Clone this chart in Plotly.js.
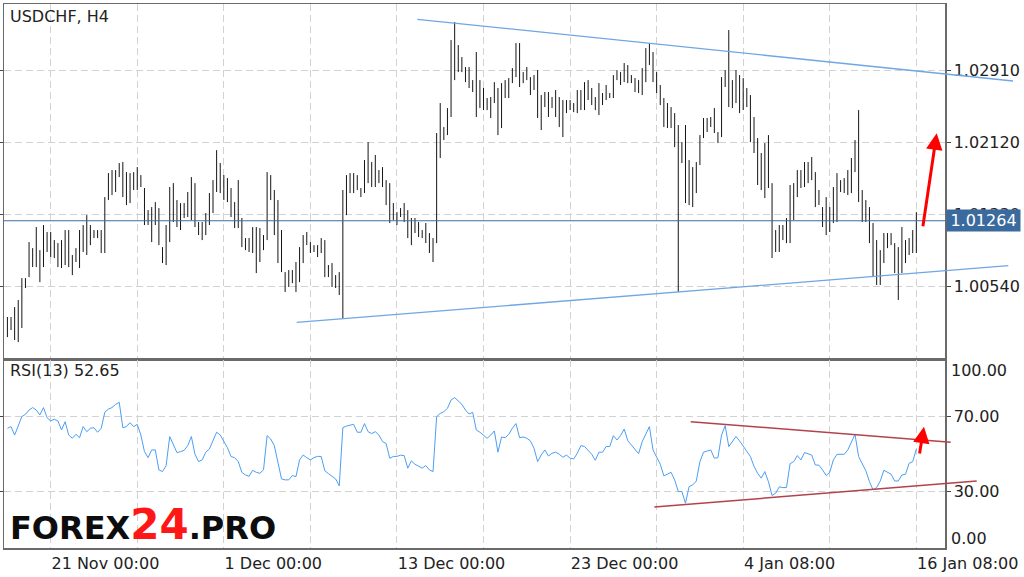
<!DOCTYPE html>
<html>
<head>
<meta charset="utf-8">
<script src="https://cdn.plot.ly/plotly-3.0.1.min.js"></script>
<style>html,body{margin:0;padding:0;background:#fff;}#chart{width:1024px;height:577px;}</style>
</head>
<body>
<div id="chart"></div>
<script>
// ---- data (H4 bars, index 0..252) ----
const highs = [1.00208,1.00208,1.00317,1.00394,1.00635,1.00635,1.01030,1.00964,1.01195,1.00942,
1.01217,1.01140,1.01140,1.01052,1.01019,1.01052,1.01162,1.01162,1.00888,1.00964,
1.01162,1.01217,1.01326,1.01217,1.01162,1.01162,1.01162,1.01524,1.01787,1.01820,
1.01820,1.01897,1.01908,1.01798,1.01787,1.01798,1.01853,1.01765,1.01623,1.01381,
1.01414,1.01469,1.01403,1.00975,1.01217,1.01634,1.01677,1.01491,1.01458,1.01458,
1.01579,1.01743,1.01677,1.01250,1.01250,1.01348,1.01568,1.01710,1.02039,1.01897,
1.01765,1.01732,1.01623,1.01469,1.01710,1.01294,1.01074,1.01074,1.01195,1.01195,
1.01184,1.01107,1.01798,1.01765,1.01601,1.01491,1.01162,1.00701,1.00723,1.00723,
1.00811,1.00975,1.01107,1.01140,1.01030,1.00997,1.00997,1.01074,1.01052,1.00778,
1.00800,1.00668,1.00701,1.01601,1.01765,1.01787,1.01787,1.01765,1.01623,1.01930,
1.02127,1.01908,1.01985,1.01820,1.01853,1.01710,1.01677,1.01458,1.01359,1.01403,
1.01458,1.01381,1.01294,1.01294,1.01250,1.01162,1.01239,1.01129,1.01074,1.02226,
1.02555,1.02292,1.02500,1.03246,1.03444,1.03191,1.03060,1.02950,1.02950,1.02807,
1.03115,1.02807,1.02720,1.02610,1.02621,1.02785,1.02720,1.02774,1.02807,1.02829,
1.02939,1.03213,1.03213,1.02895,1.02950,1.02840,1.02862,1.02917,1.02643,1.02676,
1.02676,1.02621,1.02698,1.02621,1.02588,1.02588,1.02588,1.02555,1.02698,1.02698,
1.02785,1.02807,1.02720,1.02621,1.02774,1.02665,1.02753,1.02665,1.02862,1.02917,
1.02895,1.02994,1.02972,1.02862,1.02829,1.02807,1.02939,1.03158,1.03213,1.03115,
1.02895,1.02753,1.02610,1.02555,1.02511,1.02445,1.02314,1.02127,1.02314,1.01930,
1.01853,1.01908,1.02204,1.02391,1.02391,1.02402,1.02500,1.02237,1.02840,1.02917,
1.03356,1.02807,1.02917,1.02862,1.02829,1.02720,1.02643,1.02402,1.02171,1.02007,
1.02116,1.02204,1.01677,1.01162,1.01217,1.01217,1.01294,1.01656,1.01677,1.01820,
1.01820,1.01908,1.01908,1.01963,1.01798,1.01601,1.01414,1.01524,1.01414,1.01634,
1.01787,1.01710,1.01732,1.01820,1.01952,1.02149,1.02478,1.01601,1.01491,1.01414,
1.01239,1.01052,1.00942,1.01129,1.01129,1.01129,1.01019,1.00975,1.01195,1.01052,
1.01074,1.01162,1.01359];
const lows = [0.99988,1.00065,0.99955,0.99933,1.00087,1.00526,1.00646,1.00756,1.00756,1.00591,
1.00756,1.00921,1.00866,1.00855,1.00756,1.00745,1.00778,1.00756,1.00668,1.00811,
1.00745,1.00921,1.00888,1.00997,1.01074,1.01074,1.00910,1.00910,1.01491,1.01546,
1.01579,1.01743,1.01524,1.01436,1.01458,1.01601,1.01601,1.01634,1.01217,1.01217,
1.01030,1.01217,1.00997,1.00800,1.00778,1.01030,1.01250,1.01195,1.01162,1.01294,
1.01305,1.01272,1.01195,1.01107,1.01052,1.01107,1.01217,1.01348,1.01579,1.01568,
1.01491,1.01469,1.01305,1.01184,1.01184,1.00975,1.00942,1.00921,1.00910,1.00690,
1.00811,1.00942,1.01052,1.01491,1.01107,1.00800,1.00701,1.00482,1.00537,1.00580,
1.00482,1.00591,1.00800,1.00997,1.00910,1.00921,1.00866,1.00910,1.00646,1.00646,
1.00537,1.00526,1.00449,1.00197,1.01326,1.01568,1.01568,1.01601,1.01524,1.01568,
1.01677,1.01634,1.01634,1.01677,1.01634,1.01436,1.01239,1.01272,1.01217,1.01305,
1.01250,1.01074,1.00997,1.01129,1.01085,1.01074,1.01019,1.00910,1.00811,1.01019,
1.01952,1.02149,1.02204,1.02402,1.02807,1.02895,1.02895,1.02785,1.02720,1.02676,
1.02402,1.02500,1.02478,1.02478,1.02391,1.02555,1.02204,1.02281,1.02610,1.02610,
1.02774,1.02840,1.02731,1.02774,1.02807,1.02643,1.02698,1.02391,1.02259,1.02511,
1.02402,1.02500,1.02402,1.02292,1.02182,1.02445,1.02478,1.02456,1.02445,1.02478,
1.02478,1.02588,1.02533,1.02478,1.02423,1.02533,1.02588,1.02610,1.02610,1.02807,
1.02753,1.02785,1.02774,1.02774,1.02676,1.02665,1.02643,1.02785,1.02972,1.02785,
1.02665,1.02533,1.02292,1.02281,1.02281,1.02072,1.00482,1.01897,1.01458,1.01436,
1.01414,1.01568,1.01875,1.02171,1.02237,1.02292,1.02226,1.02116,1.02182,1.02731,
1.02511,1.02500,1.02555,1.02445,1.02478,1.02511,1.02127,1.02007,1.01656,1.01601,
1.01513,1.01623,1.00855,1.00921,1.00921,1.01052,1.01019,1.01019,1.01272,1.01524,
1.01623,1.01634,1.01677,1.01710,1.01414,1.01436,1.01195,1.01107,1.01140,1.01239,
1.01250,1.01579,1.01568,1.01546,1.01568,1.01798,1.01469,1.01250,1.01250,1.01019,
1.00646,1.00559,1.00559,1.00800,1.00964,1.00997,1.00690,1.00394,1.00690,1.00800,
1.00888,1.00910,1.00910];
const rsi = [63.6,64.5,60.0,65.4,69.8,71.0,73.3,74.6,73.3,70.7,
74.6,69.2,67.5,68.4,67.5,62.7,67.1,60.0,58.3,60.4,
58.6,64.5,61.8,63.6,63.9,61.5,63.6,72.1,73.8,74.6,
76.3,77.4,63.9,64.5,66.6,64.5,65.7,60.0,51.2,48.0,
52.1,52.1,41.5,40.6,43.8,59.2,54.7,50.7,51.2,51.9,
54.4,59.2,49.8,45.9,46.8,50.9,52.6,57.4,61.5,60.0,
56.9,53.3,48.6,48.0,45.9,40.2,38.8,38.1,41.3,40.2,
39.7,41.5,59.7,57.9,54.4,44.5,36.7,36.2,36.2,38.5,
37.9,46.8,49.4,48.0,46.8,48.0,48.7,48.6,41.0,39.5,
38.3,36.7,33.0,63.9,64.8,65.4,65.7,61.5,61.5,66.1,
61.8,60.8,61.8,60.0,56.5,55.5,47.7,48.6,48.7,49.3,
49.1,42.4,46.3,44.5,43.3,42.4,43.8,41.5,40.6,69.8,
71.5,72.4,74.2,78.6,79.9,78.3,76.3,73.3,71.2,72.1,
62.7,61.5,60.0,58.3,60.0,62.2,50.9,59.0,58.6,60.4,
63.6,66.1,58.6,59.0,58.3,56.9,53.0,45.9,49.4,52.1,
48.9,50.3,50.9,49.8,48.2,49.4,47.7,47.3,50.3,54.4,
53.9,51.6,49.8,46.6,50.9,50.9,53.9,53.9,59.7,57.4,
59.7,63.2,57.0,54.7,52.4,50.1,56.5,60.4,64.5,52.1,
48.0,44.5,38.3,39.4,40.2,36.2,30.0,30.0,23.8,32.6,
33.5,35.6,45.9,50.9,51.7,52.1,47.7,48.0,60.0,65.0,
53.9,56.5,59.2,56.9,54.2,51.7,48.6,43.4,39.7,37.1,
40.6,35.2,27.9,29.1,32.5,32.1,32.1,44.8,45.9,49.1,
46.8,50.7,50.0,49.4,44.1,44.0,41.5,38.5,40.2,46.8,
49.8,49.8,49.8,52.1,56.5,60.4,48.6,44.5,41.0,35.3,
30.9,32.1,35.6,41.3,40.4,39.2,35.6,35.6,38.8,39.2,
45.0,45.9,52.65];
const gridIdx = [12,36,60,84,108,132,156,180,204,228,252];
const gridLabels = ["21 Nov 00:00","","1 Dec 00:00","","13 Dec 00:00","","23 Dec 00:00","","4 Jan 08:00","","16 Jan 08:00"];
const priceTicks = [1.0054,1.0133,1.0212,1.0291];
const priceTickText = ["1.00540","1.01330","1.02120","1.02910"];
const rsiTicks = [70,30];
const rsiTickText = ["70.00","30.00"];
const lastPrice = 1.01264;
const lastRsi = 52.65;
const symbolTitle = "USDCHF, H4";

// ---- geometry helpers (page pixels -> paper) ----
const L = 4, T = 4, W = 941, H = 544;
const px = x => (x - L) / W;
const py = y => (T + H - y) / H;
const split = 0.346;

// bar segments
const bx = [], by = [];
for (let i = 0; i < highs.length; i++) {
  bx.push(i, i, null);
  by.push(lows[i], highs[i], null);
}
const idx = rsi.map((_, i) => i);

const FONT = "DejaVu Sans";
const traces = [
  {type: 'scatter', mode: 'lines', x: bx, y: by, xaxis: 'x', yaxis: 'y',
   line: {color: '#151515', width: 1}, hoverinfo: 'skip', connectgaps: false},
  {type: 'scatter', mode: 'lines', x: idx, y: rsi, xaxis: 'x', yaxis: 'y2',
   line: {color: '#4b9ef2', width: 1}, hoverinfo: 'skip'}
];

const gridDash = '7px,4px';
const layout = {
  width: 1024, height: 577,
  margin: {l: L, r: 1024 - L - W, t: T, b: 577 - T - H, pad: 0},
  paper_bgcolor: '#ffffff', plot_bgcolor: '#ffffff',
  showlegend: false, hovermode: false,
  font: {family: FONT, size: 16, color: '#222'},
  xaxis: {
    anchor: 'y2', range: [-0.948, 259.95], tickmode: 'array',
    tickvals: gridIdx, ticktext: gridLabels, ticklabelposition: 'outside right',
    showgrid: true, gridcolor: '#d2d2d2', griddash: gridDash, gridwidth: 1,
    zeroline: false, showline: true, mirror: 'all', linecolor: '#6a6a6a', linewidth: 1.5,
    ticks: '', tickfont: {family: FONT, size: 16, color: '#222'}
  },
  yaxis: {
    domain: [split, 1], anchor: 'x', side: 'right', range: [0.99739, 1.036418],
    tickmode: 'array', tickvals: priceTicks, ticktext: priceTickText,
    showgrid: true, gridcolor: '#d2d2d2', griddash: gridDash, gridwidth: 1,
    zeroline: false, showline: true, mirror: 'all', linecolor: '#6a6a6a', linewidth: 1.5,
    ticks: 'outside', ticklen: 4, tickcolor: '#444',
    tickfont: {family: FONT, size: 16, color: '#222'}
  },
  yaxis2: {
    domain: [0, split], anchor: 'x', side: 'right', range: [0, 100],
    tickmode: 'array', tickvals: rsiTicks, ticktext: rsiTickText,
    showgrid: true, gridcolor: '#d2d2d2', griddash: gridDash, gridwidth: 1,
    zeroline: false, showline: true, mirror: 'all', linecolor: '#6a6a6a', linewidth: 1.5,
    ticks: 'outside', ticklen: 4, tickcolor: '#444',
    tickfont: {family: FONT, size: 16, color: '#222'}
  },
  shapes: [
    // last price line
    {type: 'line', xref: 'paper', yref: 'y', x0: 0, x1: 1, y0: lastPrice, y1: lastPrice,
     line: {color: '#3d6ea3', width: 1.2}},
    // price channel
    {type: 'line', xref: 'paper', yref: 'paper', x0: px(417.3), y0: py(19.3), x1: px(1013), y1: py(81),
     line: {color: '#6fa6e4', width: 1.3}},
    {type: 'line', xref: 'paper', yref: 'paper', x0: px(296.7), y0: py(322.3), x1: px(1008.3), y1: py(265.7),
     line: {color: '#6fa6e4', width: 1.3}},
    // RSI channel
    {type: 'line', xref: 'paper', yref: 'paper', x0: px(690.7), y0: py(421.7), x1: px(950.7), y1: py(442.3),
     line: {color: '#b4424c', width: 1.5}},
    {type: 'line', xref: 'paper', yref: 'paper', x0: px(654.3), y0: py(507), x1: px(976.7), y1: py(481),
     line: {color: '#b4424c', width: 1.5}}
  ],
  annotations: [
    {xref: 'paper', yref: 'paper', x: px(8), y: py(16), xanchor: 'left', yanchor: 'middle',
     text: symbolTitle, showarrow: false, font: {family: FONT, size: 16, color: '#222'}},
    {xref: 'paper', yref: 'paper', x: px(8), y: py(370), xanchor: 'left', yanchor: 'middle',
     text: 'RSI(13) ' + lastRsi.toFixed(2), showarrow: false, font: {family: FONT, size: 16, color: '#222'}},
    {xref: 'paper', yref: 'y', x: px(946), y: lastPrice, xanchor: 'left', yanchor: 'middle',
     text: lastPrice.toFixed(5), showarrow: false, bgcolor: '#3b6b9e', width: 71, height: 19,
     borderpad: 1, font: {family: FONT, size: 16, color: '#ffffff'}},
    {xref: 'paper', yref: 'paper', x: px(949), y: py(370), xanchor: 'left', yanchor: 'middle',
     text: '100.00', showarrow: false, font: {family: FONT, size: 16, color: '#222'}},
    {xref: 'paper', yref: 'paper', x: px(949), y: py(538), xanchor: 'left', yanchor: 'middle',
     text: '0.00', showarrow: false, font: {family: FONT, size: 16, color: '#222'}},
    // logo
    {xref: 'paper', yref: 'paper', x: px(8), y: py(524), xanchor: 'left', yanchor: 'middle',
     text: 'FOREX<span style="color:#ff1717;font-size:42px">24</span>.PRO', showarrow: false,
     font: {family: 'DejaVu Sans', size: 32, color: '#0d0d0d', weight: 'bold'}},
    // arrows
    {xref: 'paper', yref: 'paper', x: px(936.7), y: py(133.3), ax: -14, ay: 94.4,
     text: '', showarrow: true, arrowcolor: '#ff0000', arrowwidth: 3, arrowhead: 2, arrowsize: 1.1, standoff: 0},
    {xref: 'paper', yref: 'paper', x: px(924), y: py(426.7), ax: -4.7, ay: 28.3,
     text: '', showarrow: true, arrowcolor: '#ff0000', arrowwidth: 3, arrowhead: 2, arrowsize: 1.1, standoff: 0}
  ]
};

Plotly.newPlot('chart', traces, layout, {displayModeBar: false, staticPlot: true});
</script>
</body>
</html>
